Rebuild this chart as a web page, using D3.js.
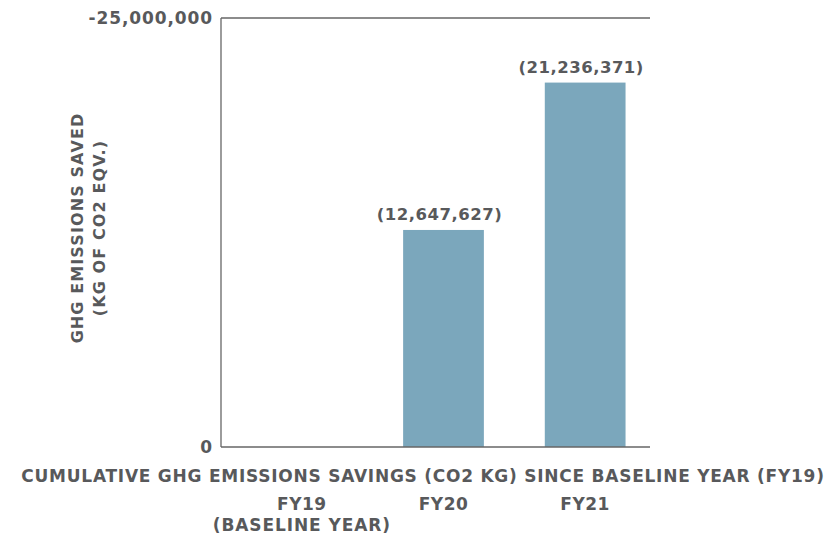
<!DOCTYPE html>
<html><head><meta charset="utf-8">
<script src="https://cdn.jsdelivr.net/npm/d3@7"></script>
<style>body{margin:0;background:#fff;} text{font-family:"DejaVu Sans",sans-serif;font-weight:bold;fill:#58595b;}</style>
</head><body>
<svg id="c" width="827" height="535"></svg>
<script>
const categories = ["FY19", "FY20", "FY21"];
const subLabels = ["(BASELINE YEAR)", "", ""];
const values = [0, -12647627, -21236371];
const valueLabels = ["", "(12,647,627)", "(21,236,371)"];
const yTicks = [0, -25000000];
const yTickLabels = ["0", "-25,000,000"];
const yTitle = ["GHG EMISSIONS SAVED", "(KG OF CO2 EQV.)"];
const xTitle = "CUMULATIVE GHG EMISSIONS SAVINGS (CO2 KG) SINCE BASELINE YEAR (FY19)";

(function () {
const svg = d3.select("#c");
const axL = 221, axR = 650, plotTop = 18, base = 447;
const x = d3.scaleBand().domain(categories).range([231, 656]).paddingInner(0.43).paddingOuter(0.215);
const y = d3.scaleLinear().domain([0, -25000000]).range([base, plotTop]);

svg.append("line").attr("x1", axL).attr("x2", axL).attr("y1", plotTop).attr("y2", base).attr("stroke", "#666").attr("stroke-width", 1.3);
svg.append("line").attr("x1", axL).attr("x2", axR).attr("y1", plotTop).attr("y2", plotTop).attr("stroke", "#666").attr("stroke-width", 1.3);

svg.selectAll("rect.bar").data(values).enter().append("rect")
  .attr("x", (d, i) => x(categories[i]))
  .attr("width", x.bandwidth())
  .attr("y", d => y(d))
  .attr("height", d => base - y(d))
  .attr("fill", "#7ba7bc");

svg.append("line").attr("x1", axL).attr("x2", axR).attr("y1", base).attr("y2", base).attr("stroke", "#666").attr("stroke-width", 1.3);

svg.selectAll("text.vl").data(values).enter().append("text")
  .attr("x", (d, i) => x(categories[i]) + x.bandwidth() / 2 - 4)
  .attr("y", d => y(d) - 10)
  .attr("text-anchor", "middle").attr("font-size", 16.5).attr("letter-spacing", 0.5)
  .text((d, i) => valueLabels[i]);

svg.selectAll("text.yt").data(yTicks).enter().append("text")
  .attr("x", 213).attr("y", d => y(d)).attr("dy", "0.36em")
  .attr("text-anchor", "end").attr("font-size", 17).attr("letter-spacing", 0.9)
  .text((d, i) => yTickLabels[i]);

const yt = svg.append("text").attr("transform", "translate(89,228) rotate(-90)").attr("text-anchor", "middle").attr("font-size", 16).attr("letter-spacing", 1.1);
yt.append("tspan").attr("x", 0).attr("y", -6).text(yTitle[0]);
yt.append("tspan").attr("x", 0).attr("y", 16).text(yTitle[1]);

svg.append("text").attr("x", 423).attr("y", 482).attr("text-anchor", "middle").attr("font-size", 17).attr("letter-spacing", 0.75).text(xTitle);

svg.selectAll("text.cat").data(categories).enter().append("text")
  .attr("x", d => x(d) + x.bandwidth() / 2).attr("y", 510)
  .attr("text-anchor", "middle").attr("font-size", 17).attr("letter-spacing", 0.5).text(d => d);
svg.selectAll("text.sub").data(subLabels).enter().append("text")
  .attr("x", (d, i) => x(categories[i]) + x.bandwidth() / 2).attr("y", 531)
  .attr("text-anchor", "middle").attr("font-size", 17).attr("letter-spacing", 0.9).text(d => d);
})();
</script>
</body></html>
